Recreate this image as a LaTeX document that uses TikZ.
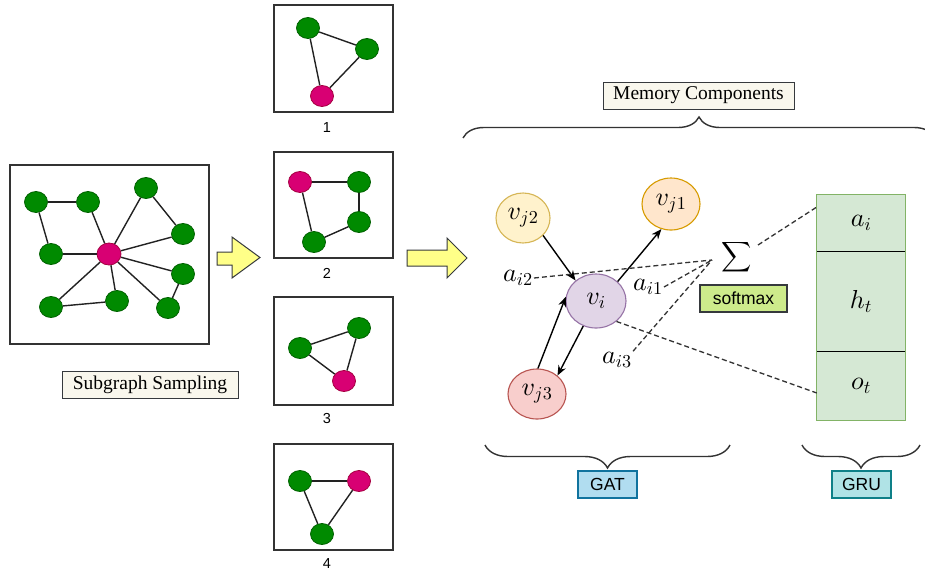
\documentclass[tikz,border=0pt]{standalone}
\usepackage{fontspec}
\setmainfont{Liberation Serif}
\setsansfont{Liberation Sans}
\DeclareFontShape{OML}{cmm}{m}{it}{<->cmmi10}{}
\DeclareFontShape{OT1}{cmr}{m}{n}{<->cmr10}{}
\DeclareFontShape{OMS}{cmsy}{m}{n}{<->cmsy10}{}
\DeclareFontShape{OMX}{cmex}{m}{n}{<->cmex10}{}
\usetikzlibrary{shapes.geometric,arrows.meta,decorations.pathreplacing,calc}
\definecolor{gfill}{HTML}{008A00}
\definecolor{gdraw}{HTML}{006100}
\definecolor{pfill}{HTML}{D80073}
\definecolor{pdraw}{HTML}{A50040}
\definecolor{edgec}{HTML}{222222}
\definecolor{framec}{HTML}{333333}
\definecolor{boxfill}{HTML}{F9F7ED}
\definecolor{boxdraw}{HTML}{36393D}
\definecolor{arrowfill}{HTML}{FFFF88}
\definecolor{yfill}{HTML}{FFF2CC}\definecolor{ydraw}{HTML}{D6B656}
\definecolor{ofill}{HTML}{FFE6CC}\definecolor{odraw}{HTML}{D79B00}
\definecolor{vfill}{HTML}{E1D5E7}\definecolor{vdraw}{HTML}{9673A6}
\definecolor{rfill}{HTML}{F8CECC}\definecolor{rdraw}{HTML}{B85450}
\definecolor{smfill}{HTML}{CDEB8B}
\definecolor{grufill}{HTML}{D5E8D4}\definecolor{grudraw}{HTML}{82B366}
\definecolor{gatfill}{HTML}{B1DDF0}\definecolor{gatdraw}{HTML}{10739E}
\definecolor{grtfill}{HTML}{B0E3E6}\definecolor{grtdraw}{HTML}{0E8088}
\begin{document}
\begin{tikzpicture}[x=1pt,y=-1pt,
  gn/.style={ellipse, fill=gfill, draw=gdraw, line width=0.8pt, minimum width=23pt, minimum height=21pt, inner sep=0pt},
  pn/.style={gn, fill=pfill, draw=pdraw},
  gedge/.style={draw=edgec, line width=1.4pt},
  frame/.style={draw=framec, line width=1.5pt},
  labelbox/.style={draw=boxdraw, fill=boxfill, line width=0.9pt, font=\fontsize{19.5}{22}\selectfont, inner xsep=0pt, inner ysep=0pt, minimum height=27pt},
  num/.style={font=\sffamily\fontsize{14.5}{16}\selectfont, inner sep=0pt},
  blockarrow/.style={fill=arrowfill, draw=boxdraw, line width=1pt},
  gatnode/.style={ellipse, line width=1.1pt, inner sep=0pt, font=\fontsize{26}{30}\selectfont},
  mathlab/.style={font=\fontsize{26}{30}\selectfont, inner sep=1pt},
  dline/.style={dash pattern=on 5pt off 3pt, line width=1.3pt, draw=framec},
  arr/.style={-{Stealth[length=10pt,width=8pt]}, line width=1.4pt, draw=black},
  tagbox/.style={line width=1.1pt, font=\sffamily\fontsize{17.5}{20}\selectfont, minimum width=59pt, minimum height=27pt, inner sep=0pt},
  bracedec/.style={decorate, decoration={brace, amplitude=#1}, line width=1.4pt, draw=framec},
  cell/.style={minimum width=88pt, inner sep=0pt, font=\fontsize{26}{30}\selectfont}
]
\useasboundingbox (0,0) rectangle (925,571);
\fill[white] (0,0) rectangle (925,571);

% ---------- big graph ----------
\draw[frame] (10,165) rectangle (209,344);
\node[gn] (A) at (36,202) {};
\node[gn] (B) at (88,202) {};
\node[gn] (C) at (146,188) {};
\node[gn] (D) at (183,234) {};
\node[gn] (E) at (51,254) {};
\node[pn, minimum width=24pt, minimum height=22pt] (X) at (109,254) {};
\node[gn] (F) at (183,274) {};
\node[gn] (G) at (51,307) {};
\node[gn] (H) at (117,301) {};
\node[gn] (I) at (168,308) {};
\foreach \a/\b in {A/B, A/E, B/X, C/X, C/D, D/X, E/X, X/F, X/G, X/H, X/I, G/H, F/I}
  \draw[gedge] (\a) -- (\b);

\node[labelbox, minimum width=176pt] (samp) at (150,384.5) {Subgraph Sampling};

% block arrows
\draw[blockarrow] (217,252) -- (232,252) -- (232,237) -- (260,257.5) -- (232,278) -- (232,265) -- (217,265) -- cycle;
\draw[blockarrow] (407,250) -- (447,250) -- (447,238) -- (467,258) -- (447,278) -- (447,266) -- (407,266) -- cycle;

% ---------- subgraphs ----------
\draw[frame] (274,5) rectangle (393,112);
\node[gn] (s1a) at (308,28) {};
\node[gn] (s1b) at (367,49) {};
\node[pn] (s1p) at (322,96) {};
\draw[gedge] (s1a) -- (s1b);
\draw[gedge] (s1a) -- (s1p);
\draw[gedge] (s1b) -- (s1p);
\node[num] (n1) at (327,128) {1};

\draw[frame] (274,152) rectangle (393,258);
\node[pn] (s2p) at (300,182) {};
\node[gn] (s2a) at (359,182) {};
\node[gn] (s2b) at (359,222) {};
\node[gn] (s2c) at (314,242) {};
\draw[gedge] (s2p) -- (s2a);
\draw[gedge] (s2a) -- (s2b);
\draw[gedge] (s2b) -- (s2c);
\draw[gedge] (s2c) -- (s2p);
\node[num] (n2) at (327,273) {2};

\draw[frame] (274,297) rectangle (393,405);
\node[gn] (s3a) at (300,348) {};
\node[gn] (s3b) at (359,328) {};
\node[pn] (s3p) at (344,381) {};
\draw[gedge] (s3a) -- (s3b);
\draw[gedge] (s3b) -- (s3p);
\draw[gedge] (s3a) -- (s3p);
\node[num] (n3) at (327,418) {3};

\draw[frame] (274,444) rectangle (393,550);
\node[gn] (s4a) at (300,481) {};
\node[pn] (s4p) at (359,481) {};
\node[gn] (s4b) at (322,534) {};
\draw[gedge] (s4a) -- (s4p);
\draw[gedge] (s4a) -- (s4b);
\draw[gedge] (s4p) -- (s4b);
\node[num] (n4) at (327,563) {4};

% ---------- memory components ----------
\node[labelbox, minimum width=191pt] (mem) at (698.5,95.5) {Memory Components};
\draw[bracedec=21pt] (463,138) -- (935,138);

% GAT nodes
\node[gatnode, fill=yfill, draw=ydraw, minimum width=54pt, minimum height=50pt] (vj2) at (523,218) {$v_{j2}$};
\node[gatnode, fill=ofill, draw=odraw, minimum width=58pt, minimum height=52pt] (vj1) at (671,204) {$v_{j1}$};
\node[gatnode, fill=vfill, draw=vdraw, minimum width=60pt, minimum height=54pt] (vi) at (596,301) {$v_{i}$};
\node[gatnode, fill=rfill, draw=rdraw, minimum width=58pt, minimum height=50pt] (vj3) at (537,394) {$v_{j3}$};

\draw[arr] (vj2.-41) -- (vi.135);
\draw[arr] (vi.42) -- (vj1.249);
\draw[arr] (vj3.88) -- (vi.172);
\draw[arr] (vi.243) -- (vj3.42);

% labels and sum
\node[mathlab] (ai2) at (518,278) {$a_{i2}$};
\node[mathlab] (ai1) at (648,287) {$a_{i1}$};
\node[mathlab] (ai3) at (617,360) {$a_{i3}$};
\node[font=\fontsize{21}{25}\selectfont, inner sep=0pt] (sigma) at (737,257) {$\displaystyle\sum$};
\coordinate (sigin) at (712,260);
\coordinate (sigout) at (758,245);
\node[tagbox, draw=boxdraw, fill=smfill, minimum width=87pt] (softmax) at (743.5,298.5) {softmax};

% GRU
\node[cell, minimum height=56pt] (aicell) at (861,223) {};
\node[cell, minimum height=101pt] (htcell) at (861,301.5) {};
\node[cell, minimum height=68pt] (otcell) at (861,386) {};
\fill[grufill] (aicell.north west) rectangle (otcell.south east);
\node[cell] (ailab) at (aicell) {$a_i$};
\node[cell] (htlab) at (htcell) {$h_t$};
\node[cell] (otlab) at (otcell) {$o_t$};
\draw[grudraw, line width=1.2pt] (aicell.north west) rectangle (otcell.south east);
\draw[black, line width=1.3pt] (aicell.south west) -- (aicell.south east);
\draw[black, line width=1.3pt] (otcell.north west) -- (otcell.north east);

% dashed connectors
\draw[dline] (ai2.east) -- (sigin);
\draw[dline] (ai1.east) -- (sigin);
\draw[dline] (ai3.north east) -- (sigin);
\draw[dline] (sigout) -- ($(aicell.west)+(0,-16)$);
\draw[dline] (vi.-45) -- ($(otcell.west)+(0,7)$);

% bottom braces and tags
\draw[bracedec=23pt] (730,445) -- (485,445);
\draw[bracedec=23pt] (920,445) -- (802,445);
\node[tagbox, draw=gatdraw, fill=gatfill] (gat) at (607.5,484.5) {GAT};
\node[tagbox, draw=grtdraw, fill=grtfill] (gru) at (861.5,484.5) {GRU};
\end{tikzpicture}
\end{document}
